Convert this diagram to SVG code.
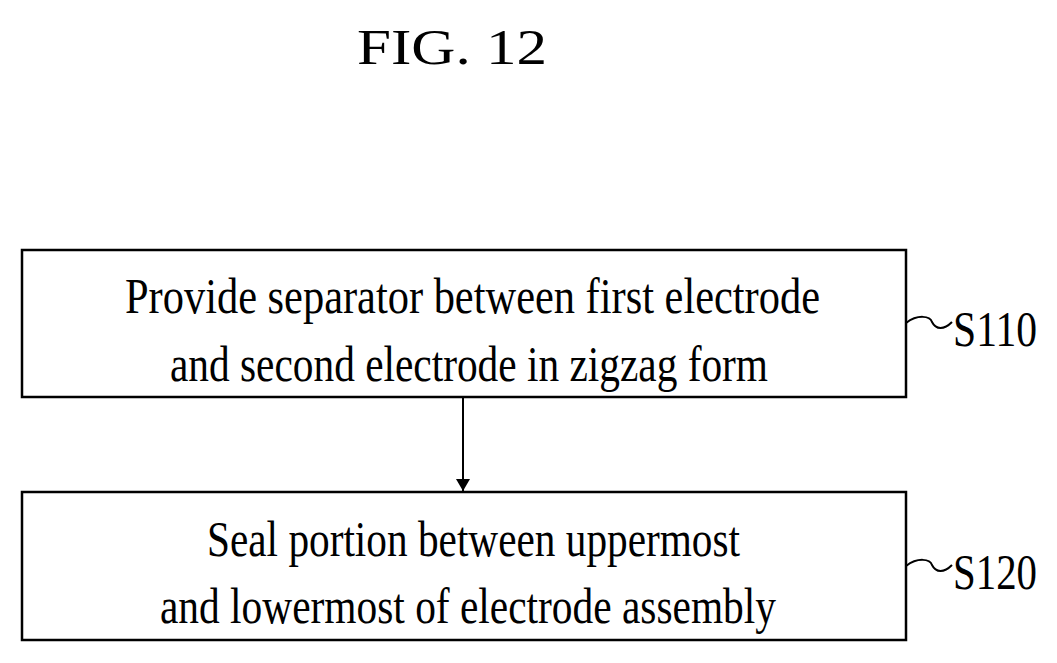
<svg xmlns="http://www.w3.org/2000/svg" width="1057" height="663" viewBox="0 0 1057 663">
<defs>
<style>
.t{font-family:"Liberation Serif",serif;font-size:50px;fill:#000}
.b{fill:#fff;stroke:#000;stroke-width:2.5}
.c{fill:none;stroke:#000;stroke-width:2}
</style>
<marker id="ah" markerWidth="12" markerHeight="20" refX="12" refY="10" orient="auto" markerUnits="userSpaceOnUse"><path d="M0,3 L12,10 L0,17 Z" fill="#000"/></marker>
</defs>
<rect width="1057" height="663" fill="#fff"/>
<text class="t" x="357" y="64" font-size="56" textLength="190" lengthAdjust="spacingAndGlyphs">FIG. 12</text>
<g id="n1">
<rect class="b" x="22" y="250" width="884" height="147"/>
<text class="t" x="125" y="313" textLength="695" lengthAdjust="spacingAndGlyphs">Provide separator between first electrode</text>
<text class="t" x="170" y="381" textLength="598" lengthAdjust="spacingAndGlyphs">and second electrode in zigzag form</text>
</g>
<g id="n2">
<rect class="b" x="22" y="492" width="884" height="148"/>
<text class="t" x="207" y="556" textLength="533" lengthAdjust="spacingAndGlyphs">Seal portion between uppermost</text>
<text class="t" x="160" y="623" textLength="616" lengthAdjust="spacingAndGlyphs">and lowermost of electrode assembly</text>
</g>
<g id="l1"><text class="t" x="953" y="346" textLength="84" lengthAdjust="spacingAndGlyphs">S110</text></g>
<g id="l2"><text class="t" x="953" y="589" textLength="84" lengthAdjust="spacingAndGlyphs">S120</text></g>
<g id="connectors">
<line class="c" x1="463" y1="397" x2="463" y2="491" marker-end="url(#ah)"/>
<path class="c" d="M906,323 C918,314 930,316 932,322 C936,330 944,330 952,322"/>
<path class="c" d="M906,566 C918,557 930,559 932,565 C936,573 944,573 952,565"/>
</g>
</svg>
